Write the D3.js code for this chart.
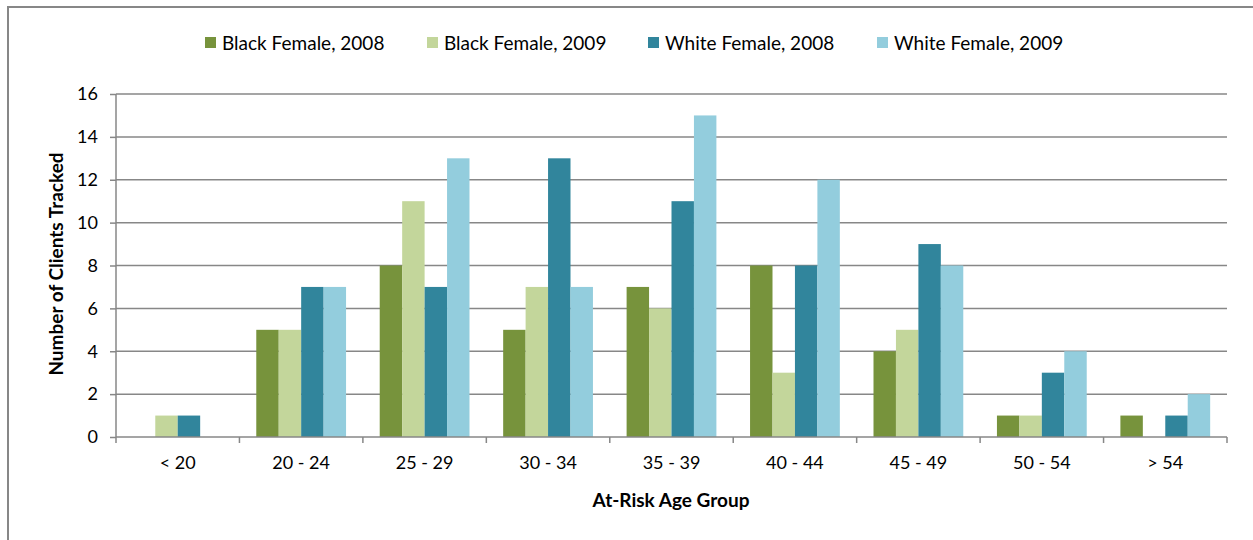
<!DOCTYPE html>
<html>
<head>
<meta charset="utf-8">
<script src="https://cdn.jsdelivr.net/npm/d3@7"></script>
<style>
  body { margin: 0; background: #fff; }
  svg { display: block; font-family: Lato, "Open Sans", sans-serif; }
</style>
</head>
<body>
<svg id="chart" width="1253" height="540"></svg>
<script>
// age groups along the x axis
var ageGroups = ["< 20", "20 - 24", "25 - 29", "30 - 34", "35 - 39", "40 - 44", "45 - 49", "50 - 54", "> 54"];
var seriesNames = ["Black Female, 2008", "Black Female, 2009", "White Female, 2008", "White Female, 2009"];
var blackFemale2008 = [0, 5, 8, 5, 7, 8, 4, 1, 1];
var blackFemale2009 = [1, 5, 11, 7, 6, 3, 5, 1, 0];
var whiteFemale2008 = [1, 7, 7, 13, 11, 8, 9, 3, 1];
var whiteFemale2009 = [0, 7, 13, 7, 15, 12, 8, 4, 2];
var yTicks = [0, 2, 4, 6, 8, 10, 12, 14, 16];
var colors = ["#77933c", "#c3d69b", "#31859c", "#93cddd"];

var allSeries = [blackFemale2008, blackFemale2009, whiteFemale2008, whiteFemale2009];

var svg = d3.select("#chart");
var plotLeft = 116, plotRight = 1227, plotTop = 94, plotBottom = 437;

// outer frame (only top & left visible in the crop)
svg.append("path")
  .attr("d", "M8,540 L8,7 L1253,7")
  .attr("fill", "none")
  .attr("stroke", "#878787")
  .attr("stroke-width", 2);

var x = d3.scaleBand().domain(ageGroups).range([plotLeft, plotRight]);
// gap width 150% of a bar, split on both sides
var inner = d3.scaleBand().domain(d3.range(4)).range([0, x.bandwidth()]).paddingOuter(0.75);
var y = d3.scaleLinear().domain([0, 16]).range([plotBottom, plotTop]);

// gridlines
svg.append("g")
  .selectAll("line")
  .data(yTicks.filter(function (d) { return d > 0; }))
  .enter()
  .append("line")
  .attr("x1", plotLeft).attr("x2", plotRight)
  .attr("y1", function (d) { return y(d); })
  .attr("y2", function (d) { return y(d); })
  .attr("stroke", "#878787")
  .attr("stroke-width", 1.5);

// bars
ageGroups.forEach(function (g, i) {
  allSeries.forEach(function (s, j) {
    if (s[i] === 0) return;
    svg.append("rect")
      .attr("x", x(g) + inner(j))
      .attr("y", y(s[i]))
      .attr("width", inner.bandwidth())
      .attr("height", y(0) - y(s[i]))
      .attr("fill", colors[j]);
  });
});

// y axis
var yAxis = d3.axisLeft(y).tickValues(yTicks).tickSize(6).tickPadding(12);
var gy = svg.append("g").attr("transform", "translate(" + plotLeft + ",0)").call(yAxis);
gy.select(".domain").attr("stroke", "#878787").attr("stroke-width", 1.5).attr("d", "M0," + plotTop + "V" + plotBottom);
gy.selectAll(".tick line").attr("stroke", "#878787").attr("stroke-width", 1.5);
gy.selectAll("text").attr("font-size", 18).attr("fill", "#000").attr("font-family", "Lato, sans-serif");

// x axis
var xAxis = d3.axisBottom(x).tickSize(0).tickPadding(19);
var gx = svg.append("g").attr("transform", "translate(0," + plotBottom + ")").call(xAxis);
gx.select(".domain").attr("stroke", "#878787").attr("stroke-width", 1.5).attr("d", "M" + plotLeft + ",0H" + plotRight);
gx.selectAll("text").attr("font-size", 18).attr("fill", "#000").attr("font-family", "Lato, sans-serif");
// category boundary ticks
svg.append("g")
  .selectAll("line")
  .data(d3.range(ageGroups.length + 1))
  .enter()
  .append("line")
  .attr("x1", function (d) { return plotLeft + d * x.step(); })
  .attr("x2", function (d) { return plotLeft + d * x.step(); })
  .attr("y1", plotBottom).attr("y2", plotBottom + 6)
  .attr("stroke", "#878787").attr("stroke-width", 1.5);

// axis titles
svg.append("text")
  .attr("transform", "translate(63," + 264 + ") rotate(-90)")
  .attr("text-anchor", "middle")
  .attr("font-size", 19)
  .attr("font-weight", "bold")
  .text("Number of Clients Tracked");

svg.append("text")
  .attr("x", 671)
  .attr("y", 507)
  .attr("text-anchor", "middle")
  .attr("font-size", 19)
  .attr("font-weight", "bold")
  .text("At-Risk Age Group");

// legend
var legendX = [205, 427, 648, 877];
var legend = svg.append("g");
seriesNames.forEach(function (n, j) {
  legend.append("rect")
    .attr("x", legendX[j]).attr("y", 37)
    .attr("width", 11).attr("height", 11)
    .attr("fill", colors[j]);
  legend.append("text")
    .attr("x", legendX[j] + 17).attr("y", 50)
    .attr("font-size", 19)
    .text(n);
});
</script>
</body>
</html>
